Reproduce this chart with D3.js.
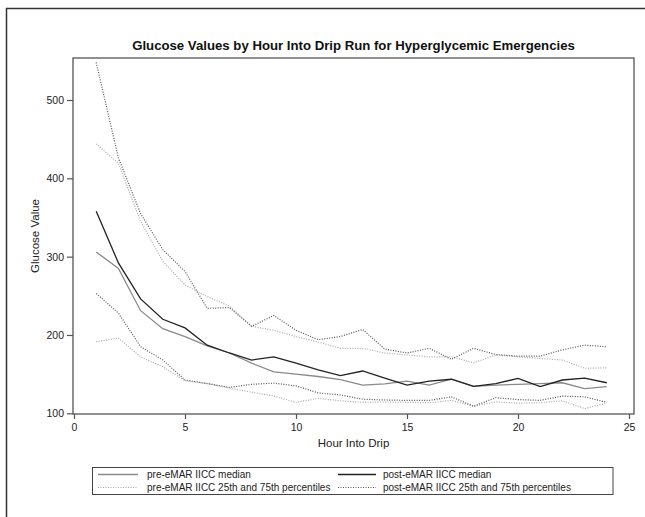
<!DOCTYPE html>
<html>
<head>
<meta charset="utf-8">
<script src="https://cdn.jsdelivr.net/npm/d3@7"></script>
<style>
  body { margin: 0; background: #fff; }
  svg { display: block; font-family: 'Liberation Sans', Arial, sans-serif; }
</style>
</head>
<body>
<div id="chart"></div>
<script>
const hours = d3.range(1, 25)

const preMedian = [306, 285, 231, 208, 198, 186, 177, 164, 153, 150, 147, 143, 136, 137.5, 141, 136, 143.5, 134.5, 136, 137, 138, 139, 131.5, 134]
const postMedian = [358, 292, 246, 220, 209, 187, 177, 168, 172, 164, 155.5, 148, 154, 145, 136, 141, 143.5, 134.5, 138, 144.5, 134, 142.5, 145, 139]
const pre75 = [444, 419, 345, 294, 264, 249, 237, 211, 206, 198, 191, 183, 183, 177, 174.5, 172, 172, 164.5, 174.5, 172, 170, 168, 157.5, 158]
const post75 = [548, 426, 355, 309, 281, 234, 235, 211, 225, 206, 194, 198, 207, 182, 177, 183, 169, 183, 175, 173, 173, 181, 187, 185]
const pre25 = [191.5, 196, 172, 159.5, 141.5, 138, 132, 127, 122, 114, 119, 116, 114, 114.5, 114, 113.5, 116.5, 109, 114.5, 113, 113.5, 116, 106, 113]
const post25 = [253, 228, 185, 168, 142.5, 138, 133, 137, 138.5, 135, 126, 123.5, 118, 117, 116.5, 116.5, 121, 109, 120, 117.5, 116.5, 122, 121, 114]

const xTicks = [0, 5, 10, 15, 20, 25]
const yTicks = [100, 200, 300, 400, 500]

const title = 'Glucose Values by Hour Into Drip Run for Hyperglycemic Emergencies'

const width = 645
const height = 517

const svg = d3
  .select('#chart')
  .append('svg')
  .attr('width', width)
  .attr('height', height)

// outer figure border (only top and left visible)
svg
  .append('rect')
  .attr('x', 6.5)
  .attr('y', 8.5)
  .attr('width', 700)
  .attr('height', 600)
  .attr('fill', 'none')
  .attr('stroke', '#333')
  .attr('stroke-width', 1.5)

const x = d3.scaleLinear().domain([0, 25]).range([74, 629])
const y = d3.scaleLinear().domain([100, 500]).range([413.3, 100])

// plot frame
svg
  .append('rect')
  .attr('x', 73)
  .attr('y', 58)
  .attr('width', 561)
  .attr('height', 356)
  .attr('fill', 'none')
  .attr('stroke', '#555')
  .attr('stroke-width', 1.3)

const xAxis = svg
  .append('g')
  .attr('transform', 'translate(0,414)')
  .call(d3.axisBottom(x).tickValues(xTicks).tickSize(5).tickPadding(5))
xAxis.select('.domain').remove()

const yAxis = svg
  .append('g')
  .attr('transform', 'translate(73,0)')
  .call(d3.axisLeft(y).tickValues(yTicks).tickSize(6).tickPadding(3))
yAxis.select('.domain').remove()

svg.selectAll('.tick line').attr('stroke', '#555').attr('stroke-width', 1.2)
svg
  .selectAll('.tick text')
  .attr('fill', '#222')
  .style('font-size', '10.5px')
  .style('font-family', "'Liberation Sans', Arial, sans-serif")

const line = d3
  .line()
  .x((d, i) => x(hours[i]))
  .y((d) => y(d))

const series = [
  { values: pre25, stroke: '#aaa', width: 1.2, dash: '1,1.5' },
  { values: pre75, stroke: '#aaa', width: 1.2, dash: '1,1.5' },
  { values: post25, stroke: '#555', width: 1.2, dash: '1,1.5' },
  { values: post75, stroke: '#555', width: 1.2, dash: '1,1.5' },
  { values: preMedian, stroke: '#8a8a8a', width: 1.3, dash: null },
  { values: postMedian, stroke: '#222', width: 1.3, dash: null }
]

svg
  .selectAll('path.series')
  .data(series)
  .join('path')
  .attr('class', 'series')
  .attr('d', (d) => line(d.values))
  .attr('fill', 'none')
  .attr('stroke', (d) => d.stroke)
  .attr('stroke-width', (d) => d.width)
  .attr('stroke-dasharray', (d) => d.dash)

// title and axis labels
svg
  .append('text')
  .attr('x', 353.5)
  .attr('y', 49.5)
  .attr('text-anchor', 'middle')
  .style('font-size', '13.2px')
  .style('font-weight', 'bold')
  .attr('fill', '#111')
  .text(title)

svg
  .append('text')
  .attr('x', 353.5)
  .attr('y', 447)
  .attr('text-anchor', 'middle')
  .style('font-size', '11.5px')
  .attr('fill', '#222')
  .text('Hour Into Drip')

svg
  .append('text')
  .attr('transform', 'translate(39,236) rotate(-90)')
  .attr('text-anchor', 'middle')
  .style('font-size', '11.5px')
  .attr('fill', '#222')
  .text('Glucose Value')

// legend
const legendItems = [
  { label: 'pre-eMAR IICC median', s: series[4], col: 0, row: 0 },
  { label: 'post-eMAR IICC median', s: series[5], col: 1, row: 0 },
  { label: 'pre-eMAR IICC 25th and 75th percentiles', s: series[0], col: 0, row: 1 },
  { label: 'post-eMAR IICC 25th and 75th percentiles', s: series[2], col: 1, row: 1 }
]
const colX = [98, 338]

svg
  .append('rect')
  .attr('x', 92.5)
  .attr('y', 467.5)
  .attr('width', 520.5)
  .attr('height', 27)
  .attr('fill', 'none')
  .attr('stroke', '#444')
  .attr('stroke-width', 1)

const lg = svg
  .selectAll('g.legend')
  .data(legendItems)
  .join('g')
  .attr('class', 'legend')
  .attr('transform', (d) => `translate(${colX[d.col]},${474.5 + d.row * 13})`)

lg.append('line')
  .attr('x1', 0)
  .attr('x2', (d) => (d.col === 0 ? 40 : 38))
  .attr('stroke', (d) => d.s.stroke)
  .attr('stroke-width', (d) => d.s.width)
  .attr('stroke-dasharray', (d) => d.s.dash)

lg.append('text')
  .attr('x', (d) => (d.col === 0 ? 49 : 45))
  .attr('dy', '0.35em')
  .style('font-size', '10px')
  .attr('fill', '#222')
  .text((d) => d.label)
</script>
</body>
</html>
